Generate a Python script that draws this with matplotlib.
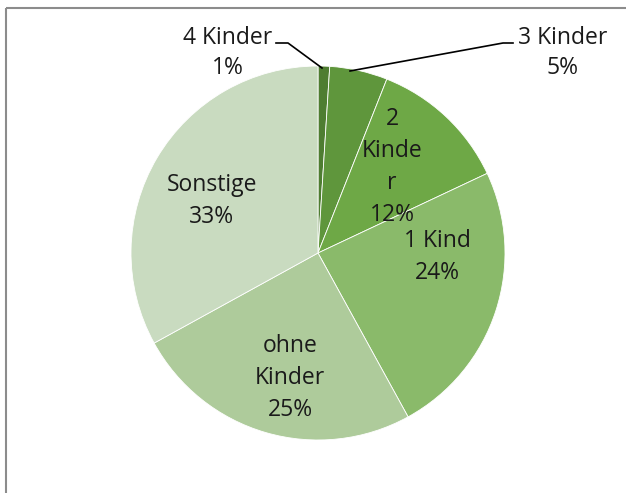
import matplotlib.pyplot as plt
from matplotlib.patches import Rectangle

# Daten
kategorien = ['4 Kinder', '3 Kinder', '2 Kinder', '1 Kind', 'ohne Kinder', 'Sonstige']
anteile = [1, 5, 12, 24, 25, 33]
beschriftung = ['4 Kinder\n1%', '3 Kinder\n5%', '2\nKinde\nr\n12%', '1 Kind\n24%',
                'ohne\nKinder\n25%', 'Sonstige\n33%']
farben = ['#4e7d31', '#5f963c', '#6ea846', '#8aba6a', '#aecb9b', '#c9dbc0']

W, H = 626, 493
cx, cy, r = 318, 253, 187

fig = plt.figure(figsize=(W / 100, H / 100), dpi=100)
plt.rcParams['font.family'] = ['Open Sans', 'DejaVu Sans']

# Rahmen
bg = fig.add_axes([0, 0, 1, 1])
bg.set_xlim(0, W)
bg.set_ylim(H, 0)
bg.axis('off')
bg.add_patch(Rectangle((6, 8), W, H, fill=False, edgecolor='#8c8c8c', linewidth=1.5))

ax = fig.add_axes([(cx - r) / W, (H - cy - r) / H, 2 * r / W, 2 * r / H])
ax.pie(anteile, colors=farben, startangle=90, counterclock=False, radius=1,
       wedgeprops=dict(edgecolor='white', linewidth=0.6))
ax.set_xlim(-1, 1)
ax.set_ylim(-1, 1)
ax.axis('off')


def p(x, y):
    return ((x - cx) / r, (cy - y) / r)


# Positionen der Beschriftungen (Pixel)
pos = [(228, 53), (563, 53), (392, 167), (437, 257), (290, 378), (212, 201)]
sp = [1.35, 1.35, 1.45, 1.45, 1.45, 1.45]
for txt, (x, y), s in zip(beschriftung, pos, sp):
    ax.text(*p(x, y), txt, ha='center', va='center', fontsize=16.5,
            linespacing=s, color='#1a1a1a')

# Führungslinien
for pts in [[(276, 43), (288, 43), (322, 68)], [(513, 43), (503, 43), (350, 71)]]:
    xs, ys = zip(*[p(*q) for q in pts])
    ax.plot(xs, ys, color='black', linewidth=1.2, clip_on=False)

fig.savefig('out.png', dpi=100)
